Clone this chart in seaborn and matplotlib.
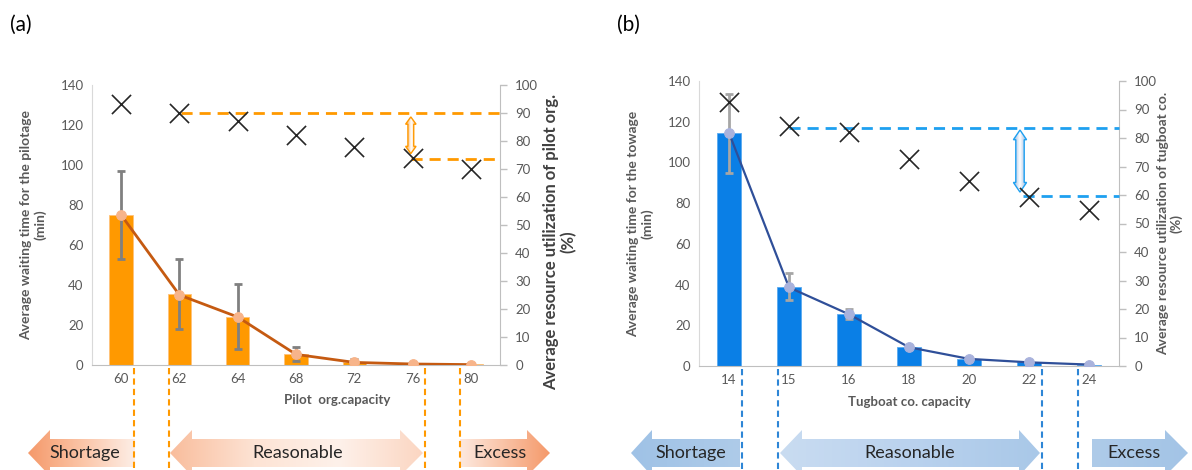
import numpy as np
import pandas as pd
import matplotlib
matplotlib.use("Agg")
import matplotlib.pyplot as plt
import matplotlib.transforms as mtransforms
from matplotlib.patches import Polygon
from matplotlib.colors import LinearSegmentedColormap
import seaborn as sns

# --- data (a) pilot ---
pilot_cap = ["60", "62", "64", "68", "72", "76", "80"]
pilot_wait = [75, 35.3, 24.2, 5.5, 1.7, 0.5, 0.3]
pilot_err_lo = [53, 18, 8, 2, 0.8, 0.5, 0.3]
pilot_err_hi = [97, 53.2, 40.3, 9.2, 3.0, 0.5, 0.3]
pilot_line = [75, 35, 24, 5.3, 1.3, 0.5, 0.2]
pilot_util = [93.1, 89.9, 87.1, 82.0, 77.7, 73.8, 69.9]
pilot_levels = [89.9, 73.7]

# --- data (b) tugboat ---
tug_cap = ["14", "15", "16", "18", "20", "22", "24"]
tug_wait = [114.5, 38.6, 25.4, 9.2, 3.3, 1.8, 0.7]
tug_err_lo = [94.9, 32.4, 22.9, 8.6, 3.3, 1.8, 0.7]
tug_err_hi = [133.8, 45.5, 28.1, 9.8, 3.3, 1.8, 0.7]
tug_line = [114.5, 38.6, 25.4, 9.2, 3.5, 1.8, 0.7]
tug_util = [92.6, 84.1, 82.1, 72.8, 64.8, 59.3, 54.7]
tug_levels = [83.5, 59.6]

sns.set_style("white")
plt.rcParams["font.family"] = ["Lato", "DejaVu Sans"]

GRAY = "#595959"

fig = plt.figure(figsize=(11.92, 4.70), dpi=100)


def grad_poly(ax, verts, colors, ec="none", lw=0.8, zorder=3):
    poly = Polygon(verts, closed=True, fc="none", ec=ec, lw=lw, zorder=zorder + 0.1,
                   transform=ax.transData)
    ax.add_patch(poly)
    xs = [v[0] for v in verts]
    ys = [v[1] for v in verts]
    cmap = LinearSegmentedColormap.from_list("g", colors)
    grad = np.linspace(0, 1, 256).reshape(1, -1)
    im = ax.imshow(grad, cmap=cmap, extent=(min(xs), max(xs), min(ys), max(ys)),
                   aspect="auto", zorder=zorder, interpolation="bilinear")
    im.set_clip_path(poly)


def vert_double_arrow(ax, xc, y0, y1, hw_s, hw_h, hl, edge, fill):
    verts = [(xc, y1), (xc + hw_h, y1 - hl), (xc + hw_s, y1 - hl), (xc + hw_s, y0 + hl),
             (xc + hw_h, y0 + hl), (xc, y0), (xc - hw_h, y0 + hl), (xc - hw_s, y0 + hl),
             (xc - hw_s, y1 - hl), (xc - hw_h, y1 - hl)]
    grad_poly(ax, verts, [fill, "white", fill], ec=edge, lw=1.0, zorder=5)


def panel(rect, cats, wait, lo, hi, line, util, levels, level_start, arrow, style):
    ax = fig.add_axes(rect)
    df = pd.DataFrame({"cap": cats, "wait": wait})
    sns.barplot(data=df, x="cap", y="wait", ax=ax, color=style["bar"], width=0.4,
                saturation=1, edgecolor=style["bar_edge"], linewidth=0.6, zorder=2)
    pos = np.arange(len(cats))
    w = np.array(wait)
    ax.errorbar(pos, w, yerr=[w - np.array(lo), np.array(hi) - w], fmt="none",
                ecolor=style["err"], elinewidth=2, capsize=3, capthick=2, zorder=3)
    sns.lineplot(x=pos, y=line, ax=ax, color=style["line"], lw=style["line_w"],
                 marker="o", markersize=7, markerfacecolor=style["dot"],
                 markeredgecolor=style["dot"], zorder=4)
    ax.set_xlim(-0.5, len(cats) - 0.5)
    ax.set_ylim(0, 140)
    ax.set_yticks(range(0, 141, 20))
    ax.tick_params(axis="both", length=0, labelsize=9.5, labelcolor=GRAY, pad=6)
    ax.set_xlabel(style["xlabel"], fontsize=9.5, color=GRAY, fontweight="bold", labelpad=8)
    ax.xaxis.set_label_coords(style["xlabel_x"], -0.105)
    ax.set_ylabel(style["ylabel"], fontsize=10, color=GRAY, fontweight="bold",
                  linespacing=1.15, labelpad=10)
    for s in ["top", "right"]:
        ax.spines[s].set_visible(False)
    ax.spines["left"].set_color("#d9d9d9")
    ax.spines["bottom"].set_color("#bfbfbf")

    ax2 = ax.twinx()
    sns.scatterplot(x=pos, y=util, ax=ax2, marker="x", s=190, color="#262626",
                    linewidth=1.2, zorder=6)
    ax2.set_ylim(0, 100)
    ax2.set_yticks(range(0, 101, 10))
    ax2.tick_params(axis="y", length=5, width=1, color="#bfbfbf", labelsize=9.5,
                    labelcolor=GRAY, pad=6)
    for s in ["top", "left", "bottom"]:
        ax2.spines[s].set_visible(False)
    ax2.spines["right"].set_color("#bfbfbf")
    ax2.set_ylabel(style["ylabel2"], fontsize=style["ylabel2_size"],
                   color=style["ylabel2_color"], fontweight="bold", linespacing=1.1)
    ax2.yaxis.set_label_coords(*style["ylabel2_xy"])

    # reference levels
    for lvl, x0 in zip(levels, level_start):
        ax2.plot([x0, len(cats) - 0.5], [lvl, lvl], color=style["dash"], lw=2,
                 ls=(0, (4, 2.5)), zorder=4, clip_on=False)
    xc, y0, y1, hws, hwh, hl = arrow
    vert_double_arrow(ax2, xc, y0, y1, hws, hwh, hl, style["dash"], style["arrow_fill"])
    ax2.set_xlim(-0.5, len(cats) - 0.5)
    ax2.set_ylim(0, 100)

    # region separators below the axis
    tr = mtransforms.blended_transform_factory(ax.transData, ax.transAxes)
    for xv in [0.22, 0.82, 5.22, 5.82]:
        ax.plot([xv, xv], [-0.01, -0.45], transform=tr, clip_on=False,
                color=style["sep"], lw=1.5, ls=(0, (3, 2)), zorder=10)
    return ax, ax2


orange = dict(bar="#ff9900", bar_edge="#ffc27a", err="#808080", line="#c55a11", line_w=2,
              dot="#f7b48a", dash="#ff9900", arrow_fill="#f9a44a", sep="#ff9900",
              xlabel="Pilot  org.capacity", xlabel_x=0.6,
              ylabel="Average waiting time for the pilotage\n(min)",
              ylabel2="Average resource utilization of pilot org.\n(%)",
              ylabel2_size=12, ylabel2_color="#404040", ylabel2_xy=(1.105, 0.44))
blue = dict(bar="#0a7fe6", bar_edge="#5aaaf0", err="#a6a6a6", line="#2f4f99", line_w=1.6,
            dot="#a9b2dc", dash="#1ea0f0", arrow_fill="#8fb0dc", sep="#2e86d6",
            xlabel="Tugboat co. capacity", xlabel_x=0.5,
            ylabel="Average waiting time for the towage\n(min)",
            ylabel2="Average resource utilization of tugboat co.\n(%)",
            ylabel2_size=10, ylabel2_color=GRAY, ylabel2_xy=(1.09, 0.5))

panel([92 / 1192, 105 / 470, 408 / 1192, 280 / 470], pilot_cap, pilot_wait, pilot_err_lo,
      pilot_err_hi, pilot_line, pilot_util, pilot_levels, [1.03, 4.98],
      (4.97, 75.5, 88.6, 0.05, 0.09, 2.6), orange)
panel([699 / 1192, 104 / 470, 420 / 1192, 285 / 470], tug_cap, tug_wait, tug_err_lo,
      tug_err_hi, tug_line, tug_util, tug_levels, [1.0, 4.9],
      (4.85, 61.0, 82.8, 0.07, 0.11, 3.4), blue)

fig.text(10 / 1192, 1 - 25 / 470, "(a)", fontsize=15, va="center", ha="left", color="#000000")
fig.text(617 / 1192, 1 - 25 / 470, "(b)", fontsize=15, va="center", ha="left", color="#000000")

# --- capacity band arrows (pixel space overlay) ---
ov = fig.add_axes([0, 0, 1, 1], zorder=-1)
ov.set_axis_off()
YC, BH, HH = 453, 14, 23


def left_arrow(tip, base, end, colors):
    return ([(tip, YC), (base, YC - HH), (base, YC - BH), (end, YC - BH), (end, YC + BH),
             (base, YC + BH), (base, YC + HH)], colors)


def right_arrow(start, base, tip, colors):
    return ([(start, YC - BH), (base, YC - BH), (base, YC - HH), (tip, YC), (base, YC + HH),
             (base, YC + BH), (start, YC + BH)], colors)


def double_arrow(tl, bl, br, tr, colors):
    return ([(tl, YC), (bl, YC - HH), (bl, YC - BH), (br, YC - BH), (br, YC - HH), (tr, YC),
             (br, YC + HH), (br, YC + BH), (bl, YC + BH), (bl, YC + HH)], colors)


band = [
    left_arrow(28, 50, 135, ["#f5996a", "#fbc4a6", "#fdeee6"]),
    double_arrow(170, 192, 400, 423, ["#f9bd9c", "#fde3d4", "#fef1ea", "#fbd6c2"]),
    right_arrow(460, 527, 550, ["#fde9df", "#f9c2a5", "#f5996a"]),
    left_arrow(631, 652, 740, ["#9fc2e6", "#aecbe9"]),
    double_arrow(780, 802, 1019, 1040, ["#c9dcf1", "#bad2ee", "#a9c8e8"]),
    right_arrow(1092, 1165, 1188, ["#aecbe9", "#a3c4e6"]),
]
for verts, cols in band:
    grad_poly(ov, verts, cols, zorder=1)

labels = [(85, "Shortage"), (298, "Reasonable"), (500, "Excess"),
          (691, "Shortage"), (910, "Reasonable"), (1134, "Excess")]
for xt, t in labels:
    ov.text(xt, YC, t, fontsize=13, ha="center", va="center", color="#262626", zorder=5)
ov.set_xlim(0, 1192)
ov.set_ylim(470, 0)

fig.savefig("out.png", dpi=100)
